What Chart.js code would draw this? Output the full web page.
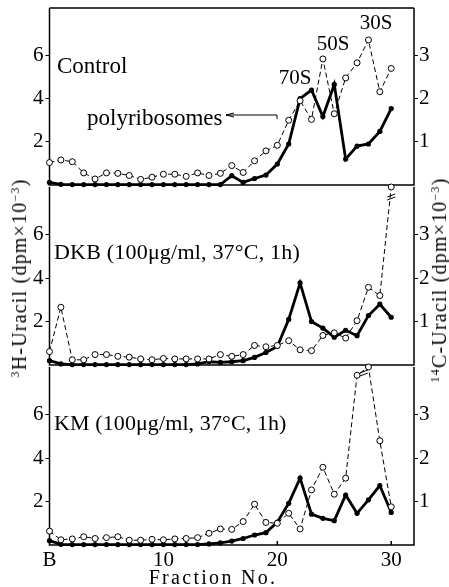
<!DOCTYPE html>
<html>
<head>
<meta charset="utf-8">
<script src="https://cdn.jsdelivr.net/npm/chart.js@4/dist/chart.umd.min.js"></script>
<style>
body { margin: 0; background: #fff; }
#fig { position: relative; width: 449px; height: 587px; font-family: "Liberation Serif", "DejaVu Serif", serif; color: #000; overflow: hidden; }
canvas { position: absolute; left: 0; }
.t { position: absolute; white-space: nowrap; line-height: 1; transform: translate(0, -50%); }
.c { transform: translate(-50%, -50%); }
.rot { transform: translate(-50%, -50%) rotate(-90deg); }
sup { font-size: 60%; vertical-align: 0.55em; line-height: 0; }
</style>
</head>
<body>
<div id="fig">
  <canvas id="p1" width="449" height="190" style="top:0px"></canvas>
  <canvas id="p2" width="449" height="188" style="top:182px"></canvas>
  <canvas id="p3" width="449" height="225" style="top:362px"></canvas>

  <div class="t" style="left:57px;top:65px;font-size:23px">Control</div>
  <div class="t" style="left:87px;top:117px;font-size:23px">polyribosomes</div>
  <div class="t c" style="left:295px;top:77px;font-size:21px">70S</div>
  <div class="t c" style="left:333px;top:43px;font-size:21px">50S</div>
  <div class="t c" style="left:376px;top:22px;font-size:21px">30S</div>
  <div class="t" style="left:54px;top:252px;font-size:22px;letter-spacing:0.2px">DKB (100μg/ml, 37°C, 1h)</div>
  <div class="t" style="left:54px;top:423px;font-size:22px;letter-spacing:0.1px">KM (100μg/ml, 37°C, 1h)</div>
  <div class="t c" style="left:213px;top:577px;font-size:20px;letter-spacing:2.3px">Fraction No.</div>
  <div class="t rot" style="left:19px;top:278px;font-size:20px;letter-spacing:1.2px"><sup>3</sup>H-Uracil (dpm×10<sup>−3</sup>)</div>
  <div class="t rot" style="left:439px;top:280px;font-size:20px;letter-spacing:1.2px"><sup>14</sup>C-Uracil (dpm×10<sup>−3</sup>)</div>
</div>
<script>
// fraction numbers, B = 0
const fractions = [0,1,2,3,4,5,6,7,8,9,10,11,12,13,14,15,16,17,18,19,20,21,22,23,24,25,26,27,28,29,30]
const xTickValues = [0, 10, 20, 30]
const xTickLabels = ['B', '10', '20', '30']
const leftTicks = [2, 4, 6]
const rightTicks = [1, 2, 3]

// solid line = 3H (left axis), dashed line = 14C (right axis)
const controlH3 = [0.12,0.03,0.02,0.02,0.02,0.02,0.02,0.02,0.02,0.02,0.02,0.02,0.02,0.02,0.02,0.02,0.43,0.12,0.3,0.46,0.97,1.9,4.0,4.4,3.17,4.66,1.2,1.8,1.9,2.48,3.54]
const controlC14 = [0.52,0.58,0.54,0.28,0.14,0.28,0.27,0.22,0.13,0.18,0.25,0.25,0.2,0.28,0.22,0.27,0.45,0.29,0.56,0.79,0.92,1.5,1.95,1.52,2.92,1.65,2.48,2.83,3.36,2.16,2.7]

const dkbH3 = [0.2,0.05,0.02,0.02,0.02,0.02,0.02,0.02,0.02,0.02,0.02,0.02,0.02,0.05,0.15,0.12,0.15,0.2,0.35,0.58,0.85,2.1,3.78,2.0,1.7,1.28,1.6,1.35,2.28,2.8,2.2]
const dkbC14 = [0.31,1.33,0.12,0.12,0.24,0.24,0.2,0.18,0.14,0.12,0.15,0.14,0.14,0.14,0.14,0.24,0.2,0.24,0.45,0.42,0.45,0.56,0.35,0.33,0.68,0.74,0.62,1.02,1.79,1.6,4.1]

const kmH3 = [0.2,0.03,0.02,0.02,0.02,0.02,0.02,0.02,0.02,0.02,0.02,0.02,0.02,0.02,0.05,0.1,0.18,0.3,0.46,0.57,1.05,1.92,3.08,1.42,1.23,1.12,2.3,1.46,2.08,2.74,1.5]
const kmC14 = [0.32,0.12,0.14,0.19,0.15,0.17,0.19,0.11,0.11,0.13,0.12,0.14,0.15,0.17,0.27,0.37,0.36,0.54,0.94,0.52,0.5,0.73,0.37,1.27,1.79,1.17,1.54,3.91,4.1,2.4,0.88]

const serif = '"Liberation Serif", "DejaVu Serif", serif'

// frame of each panel; the top edge is shared with the panel above, so only panel 1 draws it
const boxPlugin = {
    id: 'box',
    beforeDatasetsDraw(chart, args, opts) {
        const {ctx, chartArea: a} = chart
        ctx.save()
        ctx.strokeStyle = '#000'
        ctx.lineWidth = 1.5
        ctx.beginPath()
        if (opts.top) {
            ctx.moveTo(a.left, a.top); ctx.lineTo(a.right, a.top)
        }
        ctx.moveTo(a.left, a.top); ctx.lineTo(a.left, a.bottom); ctx.lineTo(a.right, a.bottom); ctx.lineTo(a.right, a.top)
        if (opts.xTicks) {
            const xs = chart.scales.x
            xTickValues.slice(1).forEach(v => {
                const px = xs.getPixelForValue(v)
                ctx.moveTo(px, a.bottom); ctx.lineTo(px, a.bottom - 4)
            })
        }
        ctx.stroke()
        ctx.restore()
    }
}

// little "//" marks where the dashed line leaves the scale
function breakMark(ctx, x, y) {
    ctx.save()
    ctx.strokeStyle = '#000'
    ctx.lineWidth = 1
    ctx.beginPath()
    ctx.moveTo(x - 4, y + 1); ctx.lineTo(x + 4, y - 2)
    ctx.moveTo(x - 4, y + 4); ctx.lineTo(x + 4, y + 1)
    ctx.stroke()
    ctx.restore()
}

function noPad(s) {
    s.paddingTop = 0; s.paddingBottom = 0; s.paddingLeft = 0; s.paddingRight = 0
}

function makePanel(id, h3, c14, padTop, first, showX, extra) {
    const ctx = document.getElementById(id).getContext('2d')
    return new Chart(ctx, {
        type: 'line',
        data: {
            datasets: [
                {
                    data: fractions.map((f, i) => ({x: f, y: c14[i]})),
                    yAxisID: 'yR',
                    borderColor: '#000',
                    borderWidth: 1,
                    borderDash: [5, 3],
                    pointRadius: 3,
                    pointBackgroundColor: '#fff',
                    pointBorderColor: '#000',
                    pointBorderWidth: 1,
                    tension: 0,
                    clip: false
                },
                {
                    data: fractions.map((f, i) => ({x: f, y: h3[i]})),
                    yAxisID: 'yL',
                    borderColor: '#000',
                    borderWidth: 2.8,
                    pointRadius: 2.6,
                    pointBackgroundColor: '#000',
                    pointBorderWidth: 0,
                    tension: 0,
                    clip: false
                }
            ]
        },
        options: {
            responsive: false,
            animation: false,
            layout: {padding: {top: padTop, bottom: showX ? 0 : 4, left: 0, right: 0}},
            plugins: {
                legend: {display: false},
                tooltip: {enabled: false},
                box: {top: first, xTicks: showX}
            },
            scales: {
                x: {
                    type: 'linear', min: 0, max: 32,
                    display: showX,
                    afterBuildTicks: s => { s.ticks = xTickValues.map(v => ({value: v})) },
                    afterFit: s => { noPad(s); s.height = showX ? 42 : 0 },
                    ticks: {
                        callback: v => xTickLabels[xTickValues.indexOf(v)],
                        font: {family: serif, size: 21}, color: '#000',
                        padding: 3, maxRotation: 0, autoSkip: false
                    },
                    grid: {drawOnChartArea: false, drawTicks: false},
                    border: {display: false}
                },
                yL: {
                    position: 'left', min: 0, max: 8.2,
                    afterBuildTicks: s => { s.ticks = leftTicks.map(v => ({value: v})) },
                    afterFit: s => { noPad(s); s.width = 49.5 },
                    ticks: {font: {family: serif, size: 21}, color: '#000', padding: 2},
                    grid: {drawOnChartArea: false, tickLength: 4, color: '#000'},
                    border: {display: false}
                },
                yR: {
                    position: 'right', min: 0, max: 4.1,
                    afterBuildTicks: s => { s.ticks = rightTicks.map(v => ({value: v})) },
                    afterFit: s => { noPad(s); s.width = 35 },
                    ticks: {font: {family: serif, size: 21}, color: '#000', padding: 1},
                    grid: {drawOnChartArea: false, tickLength: 4, color: '#000'},
                    border: {display: false}
                }
            }
        },
        plugins: [boxPlugin, {id: 'extra', afterDatasetsDraw: extra || (() => {})}]
    })
}

makePanel('p1', controlH3, controlC14, 8, true, false, (chart) => {
    // arrow pointing at polyribosomes
    const ctx = chart.ctx
    ctx.save()
    ctx.strokeStyle = '#000'
    ctx.lineWidth = 1
    ctx.beginPath()
    ctx.moveTo(226, 115); ctx.lineTo(277, 115); ctx.lineTo(277, 119)
    ctx.moveTo(226, 115); ctx.lineTo(234, 113)
    ctx.moveTo(226, 115); ctx.lineTo(234, 117)
    ctx.stroke()
    ctx.restore()
})

makePanel('p2', dkbH3, dkbC14, 4, false, false, (chart) => {
    const x = chart.scales.x.getPixelForValue(30)
    breakMark(chart.ctx, x, chart.chartArea.top + 9)
})

makePanel('p3', kmH3, kmC14, 4, false, true, (chart) => {
    const x = chart.scales.x.getPixelForValue(27.6)
    breakMark(chart.ctx, x, chart.chartArea.top + 5)
})
</script>
</body>
</html>
